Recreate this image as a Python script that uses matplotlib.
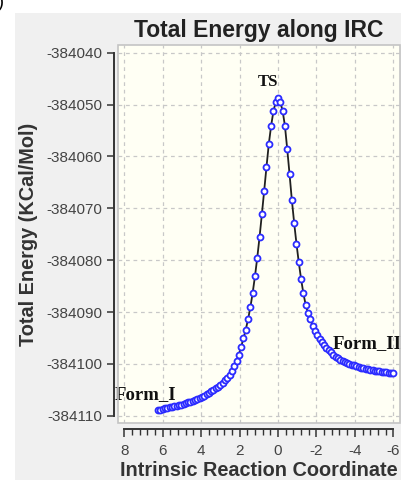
import matplotlib.pyplot as plt
from matplotlib.patches import Rectangle
from matplotlib.ticker import MultipleLocator

# IRC coordinate (left branch: reactant side, right branch: product side)
irc_coord = [
    6.24, 6.12, 6.00, 5.88, 5.76, 5.64, 5.52, 5.40, 5.28, 5.16,
    5.04, 4.92, 4.80, 4.68, 4.56, 4.44, 4.32, 4.20, 4.08, 3.96,
    3.84, 3.72, 3.60, 3.48, 3.36, 3.24, 3.12, 3.00, 2.88, 2.76,
    2.64, 2.52, 2.40, 2.28, 2.16, 2.04, 1.92, 1.80, 1.68, 1.56,
    1.44, 1.32, 1.20, 1.08, 0.96, 0.84, 0.72, 0.60, 0.48, 0.36,
    0.24, 0.12, 0.00,
    -0.12, -0.24, -0.36, -0.48, -0.60, -0.72, -0.84, -0.96, -1.08, -1.20,
    -1.32, -1.44, -1.56, -1.68, -1.80, -1.92, -2.04, -2.16, -2.28, -2.40,
    -2.52, -2.64, -2.76, -2.88, -3.00, -3.12, -3.24, -3.36, -3.48, -3.60,
    -3.72, -3.84, -3.96, -4.08, -4.20, -4.32, -4.44, -4.56, -4.68, -4.80,
    -4.92, -5.04, -5.16, -5.28, -5.40, -5.52, -5.64, -5.76, -5.88, -6.00,
]

# total energy in kcal/mol
energy = [
    -384108.9, -384108.8, -384108.7, -384108.6, -384108.5, -384108.4, -384108.3, -384108.2, -384108.1, -384108.0,
    -384107.9, -384107.7, -384107.6, -384107.4, -384107.3, -384107.1, -384106.9, -384106.7, -384106.5, -384106.3,
    -384106.1, -384105.8, -384105.6, -384105.3, -384105.0, -384104.7, -384104.4, -384104.0, -384103.7, -384103.2,
    -384102.7, -384102.1, -384101.4, -384100.5, -384099.4, -384098.2, -384096.7, -384095.1, -384093.4, -384091.4,
    -384089.1, -384086.3, -384083.1, -384079.5, -384075.5, -384071.1, -384066.6, -384062.0, -384057.6, -384054.1,
    -384051.3, -384049.5, -384048.8,
    -384049.5, -384051.2, -384054.1, -384058.6, -384063.4, -384068.4, -384072.8, -384076.8, -384080.4, -384083.6,
    -384086.4, -384088.6, -384090.2, -384091.4, -384092.6, -384093.6, -384094.4, -384095.2, -384095.8, -384096.4,
    -384096.9, -384097.4, -384097.8, -384098.2, -384098.6, -384098.9, -384099.2, -384099.4, -384099.6, -384099.8,
    -384100.0, -384100.2, -384100.3, -384100.5, -384100.6, -384100.7, -384100.8, -384100.9, -384101.0, -384101.1,
    -384101.2, -384101.3, -384101.3, -384101.4, -384101.5, -384101.6, -384101.6, -384101.7, -384101.8, -384101.8,
]

# point labels
labels = ["TS", "Form_I", "Form_II"]
label_x = [0.5, 8.49, -2.86]
label_y = [-384045.6, -384106.0, -384096.0]
label_size = [12, 13.5, 13.5]

plt.rcParams['font.family'] = ['Liberation Sans', 'DejaVu Sans']
plt.rcParams['axes.unicode_minus'] = False

fig = plt.figure(figsize=(4.02, 4.80), dpi=100, facecolor='white')
# gray panel behind the chart
fig.patches.append(Rectangle((15 / 402, 0), 1, 1 - 13 / 480, transform=fig.transFigure,
                             facecolor='#f0f0f0', edgecolor='none', zorder=-10))
fig.text(-0.004, 1.012, ")", ha='left', va='top', fontsize=13, color='black')

ax = fig.add_axes([118 / 402, 57 / 480, 282 / 402, 378 / 480])
ax.set_facecolor('#fffff4')
ax.add_patch(Rectangle((0, 0), 1, 1, transform=ax.transAxes, fill=False,
                       edgecolor='#c4c4c4', linewidth=1.2, clip_on=False, zorder=5))

ax.plot(irc_coord, energy, color='#202020', linewidth=1.3,
        marker='o', markersize=4.3, markerfacecolor='white',
        markeredgecolor='#2b2bff', markeredgewidth=1.3)

for text, x, y, s in zip(labels, label_x, label_y, label_size):
    ha = 'center' if text == "TS" else 'left'
    ax.text(x, y, text, ha=ha, va='center', fontsize=s, fontweight='bold',
            family='Liberation Serif', color='#111111', clip_on=False)

ax.set_xlim(8.33, -6.35)
ax.set_ylim(-384111.4, -384038.5)
ax.ticklabel_format(axis='y', useOffset=False, style='plain')
ax.xaxis.set_major_locator(MultipleLocator(2))
ax.xaxis.set_minor_locator(MultipleLocator(0.4))
ax.yaxis.set_major_locator(MultipleLocator(10))

ax.grid(True, which='major', color='#c8c8c8', linestyle=(0, (3, 3)), linewidth=0.9)
ax.set_axisbelow(True)

for side in ['top', 'right']:
    ax.spines[side].set_visible(False)
ax.spines['left'].set_position(('outward', 3))
ax.spines['bottom'].set_position(('outward', 4))
ax.spines['left'].set_bounds(-384110, -384040)
ax.spines['bottom'].set_bounds(8, -6)
for side in ['left', 'bottom']:
    ax.spines[side].set_color('#333333')
    ax.spines[side].set_linewidth(1.4)

ax.tick_params(axis='both', which='major', direction='out', color='#333333',
               labelcolor='#444444', labelsize=11, width=1.1)
ax.tick_params(axis='y', which='major', length=5, pad=3)
ax.tick_params(axis='x', which='major', length=6, pad=5)
ax.tick_params(axis='x', which='minor', length=4, width=1.0, color='#333333')

ax.set_title("Total Energy along IRC", fontsize=16.5, fontweight='bold', color='#222222', pad=6)
ax.set_xlabel("Intrinsic Reaction Coordinate", fontsize=14.3, fontweight='bold',
              color='#333333', labelpad=2)
ax.set_ylabel("Total Energy (KCal/Mol)", fontsize=14.3, fontweight='bold',
              color='#333333', labelpad=6)

plt.savefig("out.png", dpi=100, facecolor=fig.get_facecolor())
